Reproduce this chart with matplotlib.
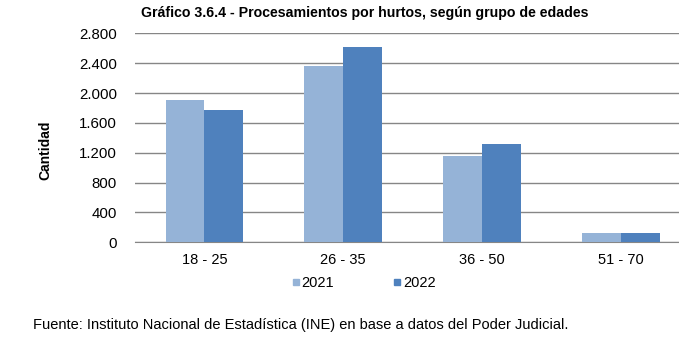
import matplotlib
matplotlib.use("Agg")
import matplotlib.pyplot as plt
import numpy as np
from matplotlib.lines import Line2D

categories = ["18 - 25", "26 - 35", "36 - 50", "51 - 70"]
series_names = ["2021", "2022"]
values_2021 = [1900, 2365, 1160, 125]
values_2022 = [1775, 2615, 1318, 125]
yticks = [0, 400, 800, 1200, 1600, 2000, 2400, 2800]
ytick_labels = ["0", "400", "800", "1.200", "1.600", "2.000", "2.400", "2.800"]

plt.rcParams['font.family'] = ['Liberation Sans', 'DejaVu Sans']

W, H = 679, 344
fig = plt.figure(figsize=(W / 100, H / 100), dpi=100)
ax = fig.add_axes([135 / W, 1 - 242.3 / H, (679 - 135) / W, (242.3 - 33.3) / H])

c21 = "#95B3D7"
c22 = "#4F81BD"
x = np.arange(len(categories))
bw = 0.28
ax.bar(x - bw / 2, values_2021, bw, color=c21, zorder=3)
ax.bar(x + bw / 2, values_2022, bw, color=c22, zorder=3)

ax.set_xlim(-0.5, 3.42)
ax.set_ylim(0, 2800)
ax.set_yticks(yticks)
ax.set_yticklabels(ytick_labels, fontsize=10.8)
ax.set_xticks(x)
ax.set_xticklabels(categories, fontsize=10.5)
ax.grid(axis='y', color="#868686", linewidth=1, zorder=0)
for s in ["top", "right", "left"]:
    ax.spines[s].set_visible(False)
ax.spines["bottom"].set_color("#868686")
ax.tick_params(axis='both', length=0, colors="#000000")
ax.tick_params(axis='y', pad=13)
ax.tick_params(axis='x', pad=8)

fig.text(365 / W, 1 - 13 / H, "Gráfico 3.6.4 - Procesamientos por hurtos, según grupo de edades",
         ha='center', va='center', fontsize=10.2, fontweight='bold')
fig.text(45 / W, 1 - 150 / H, "Cantidad", rotation=90, ha='center', va='center',
         fontsize=10, fontweight='bold')

handles = [Line2D([0], [0], marker='s', linestyle='', markersize=5, color=c21),
           Line2D([0], [0], marker='s', linestyle='', markersize=5, color=c22)]
fig.legend(handles, series_names, loc='center', bbox_to_anchor=(362 / W, 1 - 283 / H),
           ncol=2, frameon=False, fontsize=10.5, handletextpad=-0.1, columnspacing=3.8,
           handlelength=1.0)

fig.text(33 / W, 1 - 325 / H, "Fuente: Instituto Nacional de Estadística (INE) en base a datos del Poder Judicial.",
         ha='left', va='center', fontsize=10.5)

fig.savefig("out.png", dpi=100)
